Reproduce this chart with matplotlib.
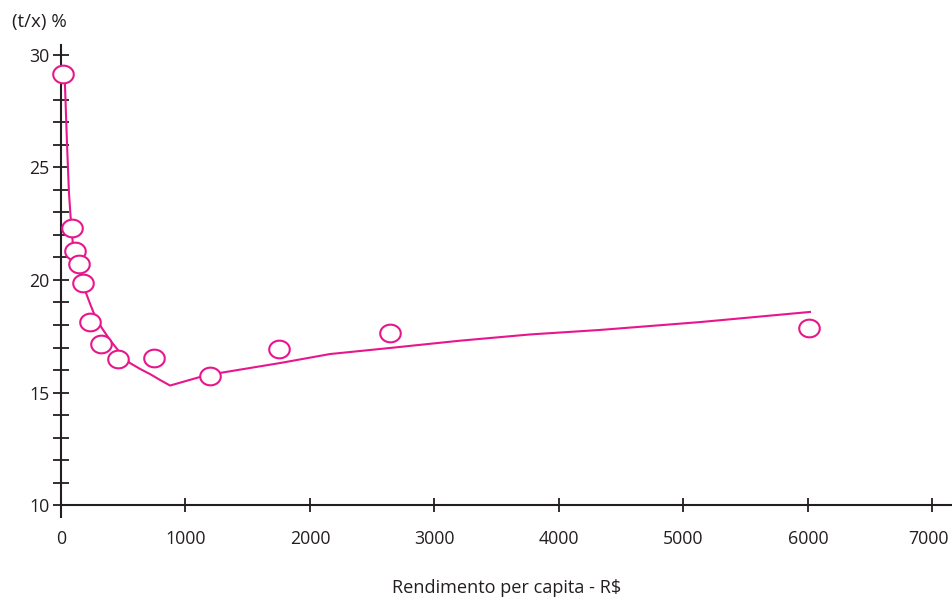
import numpy as np
import matplotlib
matplotlib.use("Agg")
import matplotlib.pyplot as plt
import matplotlib.transforms as mtransforms
from matplotlib.path import Path
from matplotlib.ticker import MultipleLocator, FixedLocator

plt.rcParams['font.family'] = ['Open Sans', 'DejaVu Sans']

# observed points
obs_x = [20, 86, 112, 145, 174, 233, 321, 460, 751, 1197, 1749, 2643, 6008]
obs_y = [29.16, 22.30, 21.29, 20.70, 19.85, 18.15, 17.14, 16.48, 16.52, 15.75, 16.93, 17.64, 17.87]

# fitted curve
fit_x = [32, 48, 64, 80, 96, 137, 201, 240, 273, 330, 394, 470, 554, 635, 715, 795, 876,
         1116, 1277, 1759, 2161, 2643, 3200, 3767, 4329, 5133, 6016]
fit_y = [28.67, 26.09, 23.87, 22.58, 21.56, 20.53, 19.42, 18.85, 18.40, 17.85, 17.33, 16.80,
         16.31, 16.05, 15.82, 15.56, 15.31,
         15.69, 15.87, 16.31, 16.71, 16.98, 17.30, 17.58, 17.78, 18.13, 18.58]

x_ticks = [0, 1000, 2000, 3000, 4000, 5000, 6000, 7000]
y_ticks = [10, 15, 20, 25, 30]

PINK = '#E8168C'
INK = '#231F20'

fig = plt.figure(figsize=(9.52, 5.99), dpi=100)
ax = fig.add_axes([61/952, (599-517)/599, (952-61)/952, (517-45)/599])

ax.plot(fit_x, fit_y, color=PINK, lw=1.5, zorder=3, clip_on=False,
        solid_joinstyle='round')

t = np.linspace(0, 2*np.pi, 80)
ell = Path(np.column_stack([np.cos(t), 0.86*np.sin(t)]))
ax.plot(obs_x, obs_y, linestyle='none', marker=ell, markersize=14.8,
        markerfacecolor='white', markeredgecolor=PINK, markeredgewidth=1.5,
        zorder=4, clip_on=False)

ax.set_xlim(0, 7157)
ax.set_ylim(9.47, 30.44)

for s in ['top', 'right']:
    ax.spines[s].set_visible(False)
ax.spines['bottom'].set_position(('data', 10))
for s in ['left', 'bottom']:
    ax.spines[s].set_color(INK)
    ax.spines[s].set_linewidth(1.5)

ax.xaxis.set_major_locator(FixedLocator(x_ticks))
ax.yaxis.set_major_locator(FixedLocator(y_ticks))
ax.yaxis.set_minor_locator(MultipleLocator(1))
ax.set_xticklabels([str(v) for v in x_ticks])
ax.set_yticklabels([str(v) for v in y_ticks])

ax.tick_params(axis='both', which='both', direction='inout', color=INK,
               width=1.3, labelsize=12.8, labelcolor=INK)
ax.tick_params(axis='y', which='major', length=11, pad=3)
ax.tick_params(axis='y', which='minor', length=11)
ax.tick_params(axis='x', which='major', length=10, pad=13)

# keep the last tick label inside the canvas
last = ax.get_xticklabels()[-1]
last.set_transform(last.get_transform() +
                   mtransforms.ScaledTranslation(-4/100, 0, fig.dpi_scale_trans))

ax.set_xlabel('Rendimento per capita - R$', fontsize=13.1, color=INK, labelpad=22)
fig.text(12/952, 1-22/599, '(t/x) %', fontsize=13.5, color=INK, ha='left', va='center')

fig.savefig('out.png', dpi=100)
